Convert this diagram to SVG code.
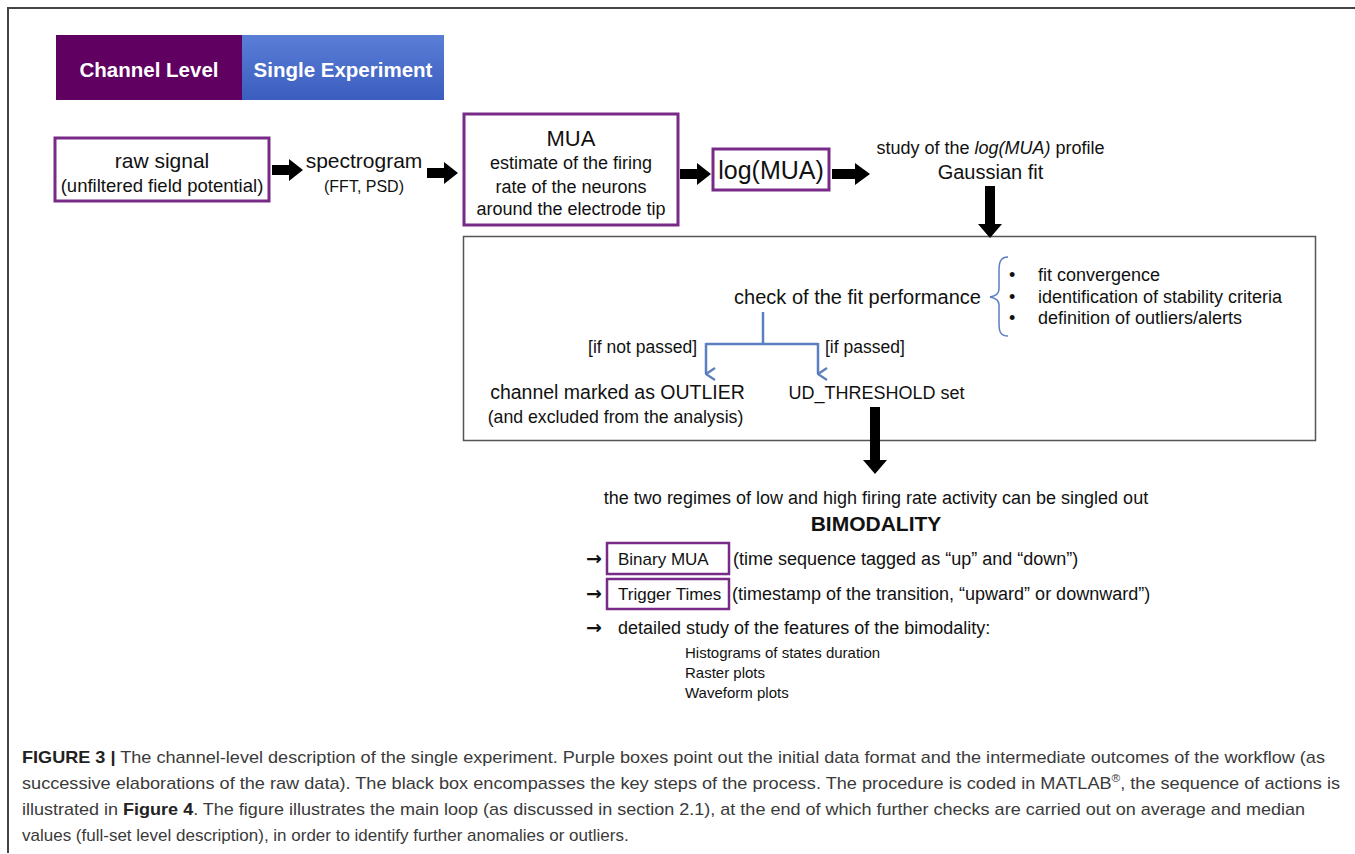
<svg xmlns="http://www.w3.org/2000/svg" width="1355" height="854" viewBox="0 0 1355 854">
<defs>
<linearGradient id="blueGrad" x1="0" y1="0" x2="0" y2="1">
<stop offset="0" stop-color="#5a7ed6"/>
<stop offset="1" stop-color="#3b5dbf"/>
</linearGradient>
<marker id="vhead" viewBox="0 0 14 11" refX="7" refY="10" markerWidth="14" markerHeight="11" markerUnits="userSpaceOnUse" orient="auto">
<path d="M1,1 L7,10 L13,1" fill="none" stroke="#5b7fbf" stroke-width="2.2"/>
</marker>
</defs>
<style>
text{font-family:"Liberation Sans",Arial,sans-serif;fill:#111}
.pbox{fill:#fff;stroke:#772a86;stroke-width:3}
.blk{fill:#000}
.big{font-size:21px}
.mid{font-size:18px}
.sm{font-size:16px}
.arr{font-family:"DejaVu Sans",sans-serif;font-size:19px;font-weight:bold}
.blue{fill:none;stroke:#5b7fbf;stroke-width:2.5}
.cap{font-size:17px;fill:#3a3a3a}
.hdr{font-size:20.5px;font-weight:bold;fill:#fff}
</style>
<rect x="0" y="0" width="1355" height="854" fill="#fff"/>
<path d="M8,853 V8 H1355" fill="none" stroke="#444" stroke-width="2"/>

<g id="header">
<rect x="56" y="35" width="186" height="65" fill="#600060"/>
<rect x="242" y="35" width="202" height="65" fill="url(#blueGrad)"/>
<text x="149" y="77" text-anchor="middle" class="hdr">Channel Level</text>
<text x="343" y="77" text-anchor="middle" class="hdr">Single Experiment</text>
</g>

<g id="raw-signal">
<rect class="pbox" x="55" y="138" width="214" height="63"/>
<text x="162" y="168" text-anchor="middle" class="big">raw signal</text>
<text x="162" y="192" text-anchor="middle" font-size="18.5">(unfiltered field potential)</text>
</g>

<g id="spectrogram">
<text x="364" y="168" text-anchor="middle" class="big">spectrogram</text>
<text x="364" y="192" text-anchor="middle" class="sm">(FFT, PSD)</text>
</g>

<g id="mua">
<rect class="pbox" x="464" y="114" width="214" height="111"/>
<text x="571" y="146" text-anchor="middle" font-size="22">MUA</text>
<text x="571" y="169" text-anchor="middle" class="mid">estimate of the firing</text>
<text x="571" y="193" text-anchor="middle" class="mid">rate of the neurons</text>
<text x="571" y="215" text-anchor="middle" class="mid">around the electrode tip</text>
</g>

<g id="logmua">
<rect class="pbox" x="713" y="149" width="116" height="41"/>
<text x="771" y="179" text-anchor="middle" font-size="25">log(MUA)</text>
</g>

<g id="gaussian">
<text x="990.5" y="154" text-anchor="middle" class="mid">study of the <tspan font-style="italic">log(MUA)</tspan> profile</text>
<text x="990.5" y="179" text-anchor="middle" font-size="20">Gaussian fit</text>
</g>

<g id="process-box">
<rect x="463.5" y="236.5" width="852" height="204" fill="none" stroke="#555" stroke-width="1.5"/>
</g>

<g id="check">
<text x="857.5" y="304" text-anchor="middle" font-size="20">check of the fit performance</text>
<path d="M1008,257 C1000,257 999,263 999,271 L999,289 C999,294 996,296 990,297 C996,298 999,300 999,305 L999,323 C999,331 1000,336 1008,336" fill="none" stroke="#5b7fbf" stroke-width="1.5"/>
<g class="mid">
<text x="1009" y="281">•</text>
<text x="1038" y="281">fit convergence</text>
<text x="1009" y="303">•</text>
<text x="1038" y="303">identification of stability criteria</text>
<text x="1009" y="324">•</text>
<text x="1038" y="324">definition of outliers/alerts</text>
</g>
</g>

<g id="outlier">
<text x="617.5" y="399" text-anchor="middle" font-size="19.5">channel marked as OUTLIER</text>
<text x="615.5" y="423" text-anchor="middle" font-size="17.7">(and excluded from the analysis)</text>
</g>

<g id="threshold">
<text x="876.5" y="399" text-anchor="middle" class="mid">UD_THRESHOLD set</text>
</g>

<g id="bimodality">
<text x="876" y="504" text-anchor="middle" class="mid">the two regimes of low and high firing rate activity can be singled out</text>
<text x="876" y="531" text-anchor="middle" font-size="21" font-weight="bold">BIMODALITY</text>
</g>

<g id="binary-mua">
<text x="586" y="565" class="arr">→</text>
<rect class="pbox" x="607" y="543" width="122" height="31" style="stroke-width:2.5"/>
<text x="618" y="565" font-size="17">Binary MUA</text>
<text x="733" y="565" class="mid">(time sequence tagged as “up” and “down”)</text>
</g>

<g id="trigger-times">
<text x="586" y="600" class="arr">→</text>
<rect class="pbox" x="607" y="579" width="122" height="30" style="stroke-width:2.5"/>
<text x="618" y="600" font-size="17">Trigger Times</text>
<text x="732" y="600" class="mid">(timestamp of the transition, “upward” or downward”)</text>
</g>

<g id="features">
<text x="586" y="634" class="arr">→</text>
<text x="618" y="634" class="mid">detailed study of the features of the bimodality:</text>
<text x="685" y="658" font-size="15">Histograms of states duration</text>
<text x="685" y="678" font-size="15">Raster plots</text>
<text x="685" y="698" font-size="15">Waveform plots</text>
</g>

<g id="connectors">
<path class="blk" d="M272,165 H289 V159 L303,170 L289,181 V175 H272 Z"/>
<path class="blk" d="M427,168 H444 V162 L458,173 L444,184 V178 H427 Z"/>
<path class="blk" d="M680,169 H697 V163 L711,174 L697,185 V179 H680 Z"/>
<path class="blk" d="M832,169 H855 V163 L870,174 L855,185 V179 H832 Z"/>
<path class="blk" d="M985,186 H995 V224 H1002 L990,238 L978,224 H985 Z"/>
<path class="blk" d="M870,407 H880 V460 H887 L875,474 L863,460 H870 Z"/>
<path class="blue" d="M763,312 V344 M706,344 H818"/>
<path class="blue" d="M706,343 V374" marker-end="url(#vhead)"/>
<path class="blue" d="M818,343 V374" marker-end="url(#vhead)"/>
<text x="697" y="353" text-anchor="end" font-size="17.5">[if not passed]</text>
<text x="825" y="353" font-size="17.5">[if passed]</text>
</g>

<g id="caption">
<text x="22" y="763" class="cap" textLength="1303" lengthAdjust="spacingAndGlyphs"><tspan font-weight="bold" style="fill:#222">FIGURE 3 |</tspan> The channel-level description of the single experiment. Purple boxes point out the initial data format and the intermediate outcomes of the workflow (as</text>
<text x="22" y="789" class="cap" textLength="1318" lengthAdjust="spacingAndGlyphs">successive elaborations of the raw data). The black box encompasses the key steps of the process. The procedure is coded in MATLAB<tspan font-size="11" dy="-7">®</tspan><tspan dy="7">, the sequence of actions is</tspan></text>
<text x="22" y="815" class="cap" textLength="1283" lengthAdjust="spacingAndGlyphs">illustrated in <tspan font-weight="bold" style="fill:#222">Figure 4</tspan>. The figure illustrates the main loop (as discussed in section 2.1), at the end of which further checks are carried out on average and median</text>
<text x="22" y="841" class="cap">values (full-set level description), in order to identify further anomalies or outliers.</text>
</g>
</svg>
